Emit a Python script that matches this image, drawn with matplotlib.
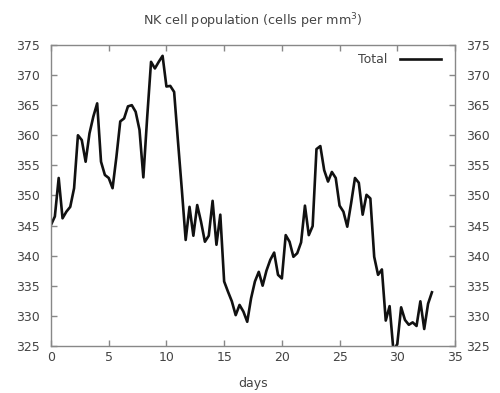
import matplotlib
matplotlib.use("Agg")
import matplotlib.pyplot as plt
import numpy as np

# NK cell counts, sampled three times a day
nk_total = [
    345.1, 346.5, 352.9, 346.2, 347.3, 348.1, 351.2, 360.0, 359.2, 355.6,
    360.3, 363.1, 365.3, 355.6, 353.4, 352.9, 351.2, 356.4, 362.3, 362.8,
    364.8, 365.0, 363.9, 360.9, 353.0, 363.0, 372.2, 371.1, 372.2, 373.2,
    368.1, 368.2, 367.2, 359.0, 351.0, 342.6, 348.1, 343.3, 348.4, 345.6,
    342.3, 343.3, 349.1, 341.8, 346.8, 335.7, 334.0, 332.4, 330.1, 331.8,
    330.7, 329.0, 332.9, 335.7, 337.3, 335.0, 337.5, 339.3, 340.5, 336.8,
    336.2, 343.4, 342.3, 339.8, 340.4, 342.2, 348.3, 343.4, 344.9, 357.7,
    358.2, 354.2, 352.3, 353.9, 352.9, 348.3, 347.3, 344.8, 348.7, 352.9,
    352.1, 346.8, 350.1, 349.5, 339.8, 336.8, 337.7, 329.2, 331.6, 324.2,
    325.3, 331.4, 329.3, 328.5, 328.9, 328.3, 332.4, 327.8, 332.0, 333.9,
]
days = np.arange(len(nk_total)) / 3.0

x_ticks = [0, 5, 10, 15, 20, 25, 30, 35]
y_ticks = [325, 330, 335, 340, 345, 350, 355, 360, 365, 370, 375]

text_color = "#444444"
axis_color = "#888888"

fig = plt.figure(figsize=(5.0, 3.93), dpi=100)
ax = fig.add_axes([0.102, 0.12, 0.808, 0.7655])

ax.plot(days, nk_total, color="#111111", linewidth=1.9, label="Total")

ax.set_xlim(0, 35)
ax.set_ylim(325, 375)
ax.set_xticks(x_ticks)
ax.set_yticks(y_ticks)

for side in ax.spines.values():
    side.set_color(axis_color)
    side.set_linewidth(1.0)

ax.tick_params(axis="both", direction="in", length=4, width=1.0,
               color=axis_color, labelcolor=text_color, labelsize=9)
ax.tick_params(axis="x", top=True, pad=4)
ax.tick_params(axis="y", right=True, labelright=True, pad=8)

ax.set_title("NK cell population (cells per mm$^3$)", fontsize=9.2,
             color=text_color, pad=14)
ax.set_xlabel("days", fontsize=9, color=text_color, labelpad=9)

leg = ax.legend(loc="upper right", bbox_to_anchor=(0.985, 1.0),
                frameon=False, markerfirst=False, fontsize=9,
                handlelength=3.3, handletextpad=1.0, borderaxespad=0.25)
for t in leg.get_texts():
    t.set_color(text_color)

fig.savefig("out.png", dpi=100)
